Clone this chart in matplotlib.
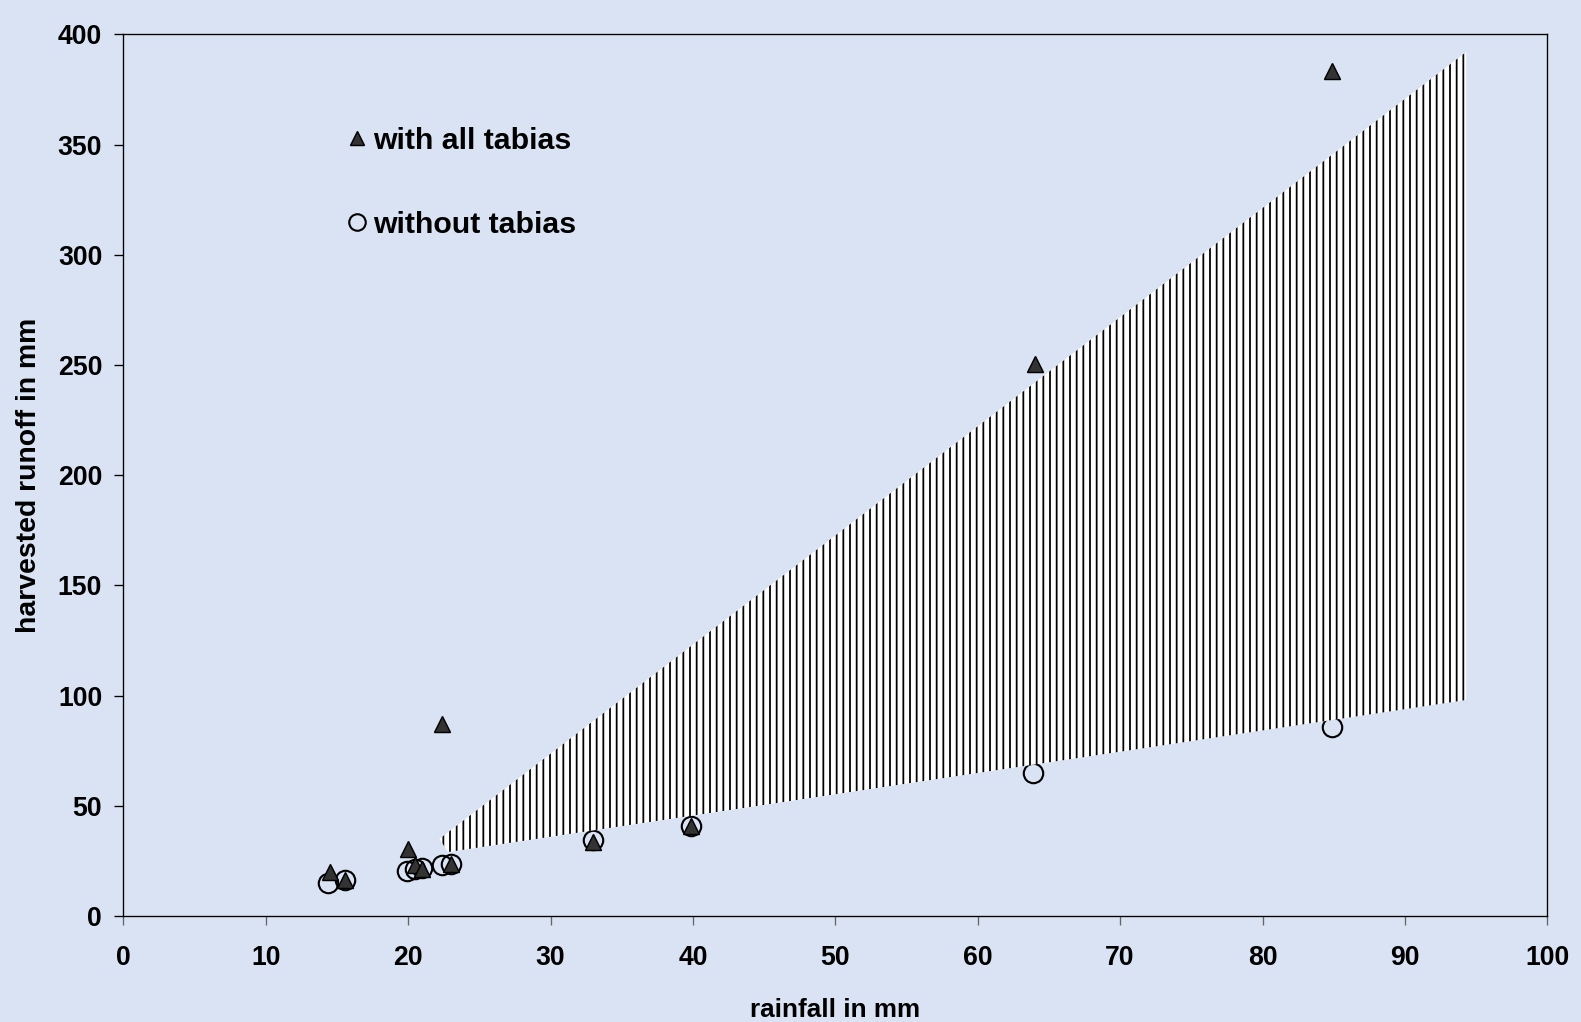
import numpy as np
import matplotlib
matplotlib.use("Agg")
import matplotlib.pyplot as plt

# rainfall (mm) and harvested runoff (mm)
rain_with = [14.5, 15.6, 20.0, 20.5, 21.0, 22.4, 23.0, 33.0, 39.9, 64.0, 84.9]
runoff_with = [20.0, 16.5, 30.6, 23.0, 21.5, 86.9, 23.8, 33.4, 40.7, 250.5, 383.5]

rain_without = [14.4, 15.6, 19.9, 20.5, 21.0, 22.4, 23.0, 33.0, 39.9, 63.9, 84.9]
runoff_without = [15.1, 16.5, 20.6, 21.5, 22.0, 23.3, 23.8, 34.3, 40.7, 64.9, 85.9]

# hatched band between the two trends
band_x = [22.2, 94.3, 94.3, 22.8]
band_y = [35.0, 392.0, 98.0, 29.0]

x_ticks = list(range(0, 101, 10))
y_ticks = list(range(0, 401, 50))

bg = '#DAE3F3'
plt.rcParams['font.family'] = ['Liberation Sans', 'DejaVu Sans']
plt.rcParams['font.weight'] = 'bold'
plt.rcParams['hatch.linewidth'] = 1.6

dpi = 80
fig = plt.figure(figsize=(1581 / dpi, 1022 / dpi), dpi=dpi, facecolor=bg)
ax = fig.add_axes([0.078, 0.1037, 0.9007, 0.8627])
ax.set_facecolor(bg)

ax.plot(rain_without, runoff_without, linestyle='none', marker='o', markersize=17.5,
        markerfacecolor='none', markeredgecolor='black', markeredgewidth=1.9,
        label='without tabias', zorder=2)
ax.fill(band_x, band_y, facecolor='white', edgecolor='black', hatch='||',
        linewidth=0, zorder=3)
ax.plot(rain_with, runoff_with, linestyle='none', marker='^', markersize=14.5,
        markerfacecolor='#333333', markeredgecolor='black', markeredgewidth=1.3,
        label='with all tabias', zorder=4)

ax.set_xlim(0, 100)
ax.set_ylim(0, 400)
ax.set_xticks(x_ticks)
ax.set_yticks(y_ticks)
ax.tick_params(axis='both', direction='out', length=8, width=1.2, colors='black',
               labelsize=24)
ax.tick_params(axis='x', pad=18, color='#666666')
ax.tick_params(axis='y', pad=11)
for lbl in ax.get_xticklabels() + ax.get_yticklabels():
    lbl.set_fontweight('bold')
for sp in ax.spines.values():
    sp.set_linewidth(1.2)
    sp.set_color('black')

ax.set_xlabel('rainfall in mm', fontsize=23.5, fontweight='bold')
ax.xaxis.set_label_coords(0.5, -0.093)
ax.set_ylabel('harvested runoff in mm', fontsize=25.5, fontweight='bold')
ax.yaxis.set_label_coords(-0.057, 0.5)

handles, labels = ax.get_legend_handles_labels()
ax.legend(handles[::-1], labels[::-1], loc='upper left', bbox_to_anchor=(0.1555, 0.895),
          frameon=False, markerscale=0.85, handlelength=0.8, handletextpad=0.15,
          labelspacing=1.85, borderpad=0, borderaxespad=0,
          prop={'size': 27.2, 'weight': 'bold'})

fig.savefig('out.png', dpi=dpi, facecolor=bg)
